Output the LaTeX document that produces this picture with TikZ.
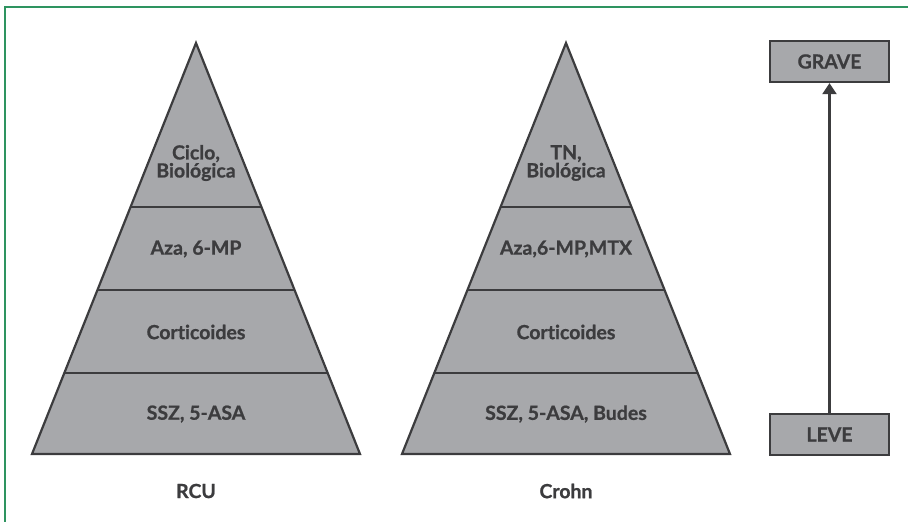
\documentclass[tikz,border=0pt]{standalone}
\usepackage{fontspec}
\setmainfont{Lato}[BoldFont={* Bold}, BoldFeatures={FakeBold=0.8}, Ligatures={NoCommon}]
\usetikzlibrary{arrows.meta}
\definecolor{frameg}{HTML}{2E9460}
\definecolor{fillg}{HTML}{A7A8AB}
\definecolor{lineg}{HTML}{3C3C3E}
\tikzset{
  layer/.style={fill=fillg, draw=lineg, line width=2.2pt, line join=miter},
  lbl/.style={text=lineg, font=\fontsize{19.5}{18}\selectfont\bfseries, align=center, inner sep=0pt},
  levelbox/.style={layer, minimum width=119pt, minimum height=41pt, inner sep=0pt, text=lineg, font=\fontsize{19.5}{18}\selectfont\bfseries},
  arr/.style={draw=lineg, line width=2.2pt, -{Triangle[length=11pt,width=14pt]}}
}
\begin{document}
\begin{tikzpicture}[x=1pt,y=-1pt]
\useasboundingbox (0,0) rectangle (908,522);
\draw[frameg, line width=2.8pt] (5,530) -- (5,7) -- (915,7);
% pyramid: apex (cx,43), base y 454, half width 164
\foreach \cx/\name in {196/r, 566/c}{
  \coordinate (\name apex) at (\cx,43);
  \path[layer] (\cx,43) -- (\cx+164,454) -- (\cx-164,454) -- cycle;
  \foreach \yy in {207,290,373}{
    \pgfmathsetmacro{\hw}{0.399027*(\yy-43)}
    \draw[lineg, line width=2.2pt] (\cx-\hw,\yy) -- (\cx+\hw,\yy);
  }
}
\node[lbl] (r1) at (196,163) {Ciclo,\\Biológica};
\node[lbl] (r2) at (196,249) {Aza, 6-MP};
\node[lbl] (r3) at (196,332) {Corticoides};
\node[lbl] (r4) at (196,414) {SSZ, 5-ASA};
\node[lbl] (rl) at (196,491) {RCU};
\node[lbl] (c1) at (566,163) {TN,\\Biológica};
\node[lbl] (c2) at (566,249) {Aza,6-MP,MTX};
\node[lbl] (c3) at (566,332) {Corticoides};
\node[lbl] (c4) at (566,414) {SSZ, 5-ASA, Budes};
\node[lbl] (cl) at (566,491) {Crohn};
\node[levelbox] (grave) at (829.5,61.5) {GRAVE};
\node[levelbox] (leve) at (829.5,434.5) {LEVE};
\draw[arr] (leve.north) -- (grave.south);
\end{tikzpicture}
\end{document}
